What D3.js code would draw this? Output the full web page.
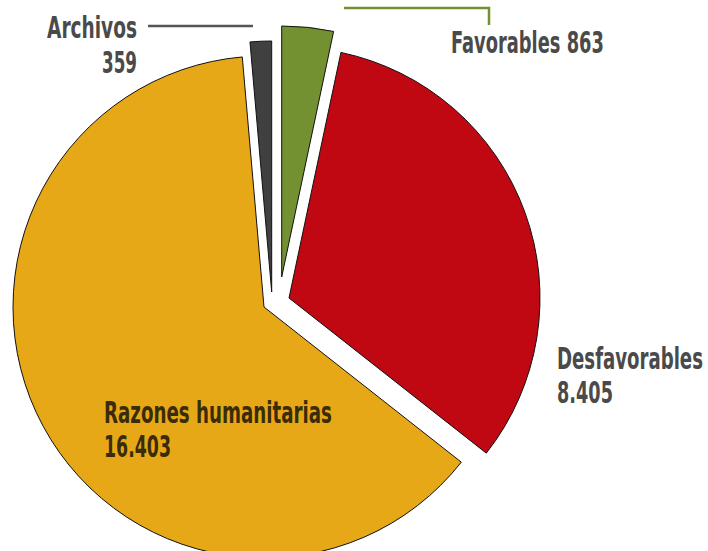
<!DOCTYPE html>
<html lang="es">
<head>
<meta charset="UTF-8">
<title>Solicitudes</title>
<script src="https://d3js.org/d3.v7.min.js"></script>
<style>
  body { margin: 0; background: #fff; }
  svg text {
    font-family: "Liberation Sans Narrow", "DejaVu Sans Condensed", "Roboto", sans-serif;
    font-weight: bold;
    font-size: 30px;
  }
</style>
</head>
<body>
<div id="chart"></div>
<script>
// data
const categories = ["Favorables", "Desfavorables", "Razones humanitarias", "Archivos"];
const values = [863, 8405, 16403, 359];
const valueLabels = ["863", "8.405", "16.403", "359"];
const colors = ["#739130", "#c00813", "#e6a817", "#404040"];

const width = 708, height = 551;
const cx = 264, cy = 307, radius = 251;
// manual explode offsets for each slice
const explode = [[17.7, -30], [25, -9], [0, 0], [7.7, -15]];

const svg = d3.select("#chart").append("svg")
  .attr("width", width)
  .attr("height", height);

const pie = d3.pie().sort(null).startAngle(0).endAngle(2 * Math.PI);
const arc = d3.arc().innerRadius(0).outerRadius(radius);

const arcs = pie(values);

svg.append("g")
  .attr("transform", `translate(${cx},${cy})`)
  .selectAll("path")
  .data(arcs)
  .join("path")
  .attr("transform", (d, i) => `translate(${explode[i][0]},${explode[i][1]})`)
  .attr("d", arc)
  .attr("fill", (d, i) => colors[i])
  .attr("stroke", "#111")
  .attr("stroke-width", 1)
  .attr("stroke-linejoin", "miter");

// leader lines
svg.append("path")
  .attr("d", "M148,26H253")
  .attr("fill", "none")
  .attr("stroke", "#555")
  .attr("stroke-width", 2.5);

svg.append("path")
  .attr("d", "M344,8H489V25")
  .attr("fill", "none")
  .attr("stroke", colors[0])
  .attr("stroke-width", 2.5);

// labels
const labels = [
  { lines: [categories[0] + " " + valueLabels[0]], x: 451, y: 53, anchor: "start", widths: [153], fill: "#4a4a4a" },
  { lines: [categories[1], valueLabels[1]], x: 557, y: 369, anchor: "start", widths: [146, 56], fill: "#4a4a4a" },
  { lines: [categories[2], valueLabels[2]], x: 104, y: 423, anchor: "start", widths: [228, 67], fill: "#3a2c08" },
  { lines: [categories[3], valueLabels[3]], x: 137, y: 38, anchor: "end", widths: [90, 35], fill: "#4a4a4a" }
];

const lineGap = [0, 34, 34, 35];

// squeeze each line horizontally to the condensed width seen in the original
labels.forEach((l, i) => {
  l.lines.forEach((t, j) => {
    const y = l.y + j * lineGap[i];
    const txt = svg.append("text")
      .attr("x", 0)
      .attr("y", 0)
      .attr("text-anchor", l.anchor)
      .attr("fill", l.fill)
      .text(t);
    const natural = txt.node().getComputedTextLength();
    const sx = l.widths[j] / natural;
    txt.attr("transform", `translate(${l.x},${y}) scale(${sx},1)`);
  });
});
</script>
</body>
</html>
